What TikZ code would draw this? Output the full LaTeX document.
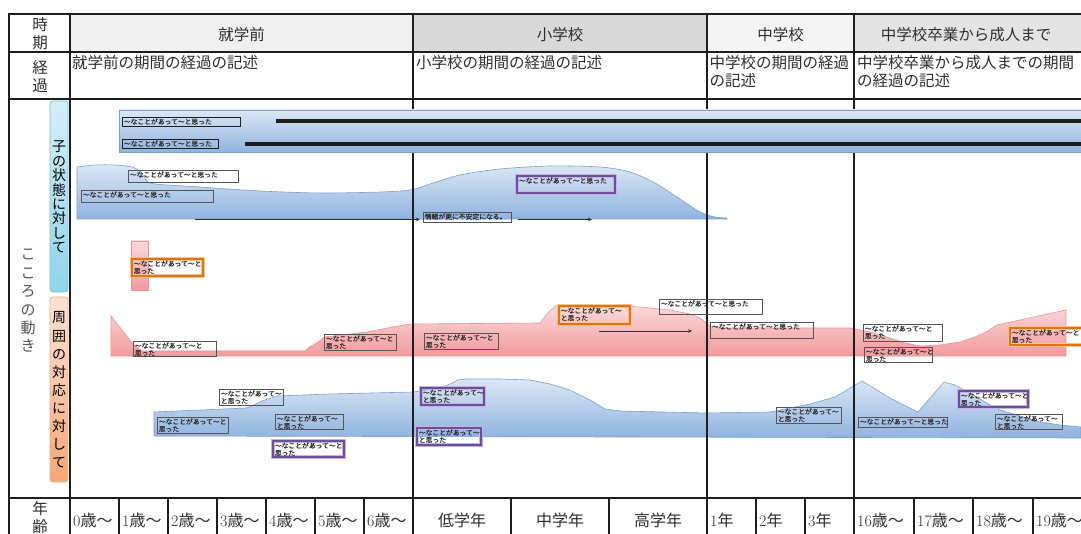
\documentclass[tikz,border=0pt]{standalone}
\usepackage{fontspec}
\newfontfamily\jp{Noto Sans CJK JP}
\newfontfamily\jplbl{Noto Sans CJK JP}[FakeBold=0.5]
\usetikzlibrary{arrows.meta}
\definecolor{hdA}{HTML}{F0F0F0}
\definecolor{hdB}{HTML}{D9D9D9}
\definecolor{hdC}{HTML}{F4F4F4}
\definecolor{hdD}{HTML}{E4E4E4}
\definecolor{bluetop}{HTML}{DCE7F5}
\definecolor{bluebot}{HTML}{8FB3DF}
\definecolor{blueedge}{HTML}{7A9FD2}
\definecolor{pinktop}{HTML}{FCDADB}
\definecolor{pinkbot}{HTML}{F29A9C}
\definecolor{pinkedge}{HTML}{E79496}
\definecolor{cyantop}{HTML}{D6EFF8}
\definecolor{cyanbot}{HTML}{8ED4EB}
\definecolor{cyanedge}{HTML}{7CC4DF}
\definecolor{peachtop}{HTML}{FDE3D4}
\definecolor{peachbot}{HTML}{F6A677}
\definecolor{peachedge}{HTML}{F1B088}
\definecolor{purp}{HTML}{6B4F9E}
\definecolor{purpglow}{HTML}{C3B4DE}
\definecolor{orng}{HTML}{DE7413}
\definecolor{orngglow}{HTML}{F9C48E}
\definecolor{lblgray}{HTML}{555555}
\definecolor{txt}{HTML}{2E2E2E}
\definecolor{softtxt}{HTML}{555555}
\definecolor{rulec}{HTML}{1E1E1E}
\newcommand{\lblfont}{\jplbl\fontsize{6.8}{7.3}\selectfont}
\newcommand{\lab}[7]{\node[#6, anchor=north west, inner sep=0pt, outer sep=0pt, minimum width=#4pt, minimum height=#5pt, font=\lblfont, text=txt] (#1) at (#2,#3) {\parbox[t][#5pt][t]{#4pt}{\leftskip=1.8pt\rule{0pt}{7.2pt}#7}};}
\tikzset{
  lbl/.style={draw=lblgray, line width=0.8pt},
  lbld/.style={draw=rulec, line width=0.9pt},
  plbl/.style={preaction={draw=purpglow, line width=3.4pt}, draw=purp, line width=1.3pt},
  olbl/.style={preaction={draw=orngglow, line width=3.4pt}, draw=orng, line width=1.4pt},
  hd/.style={font=\jp\fontsize{15.5}{18}\selectfont, text=txt, inner sep=0pt},
  agetxt/.style={font=\fontsize{16}{18}\selectfont, text=txt, inner sep=0pt},
  heavyrule/.style={draw=rulec, line width=2.8pt},
  bandrule/.style={draw=rulec, line width=3.2pt},
  lightrule/.style={draw=rulec, line width=1.3pt},
  blueshape/.style={top color=bluetop, bottom color=bluebot, draw=blueedge, line width=0.6pt},
  pinkshape/.style={top color=pinktop, bottom color=pinkbot, draw=pinkedge, line width=0.6pt},
  arr/.style={draw=txt, line width=0.9pt, -{Stealth[length=4pt,width=3.5pt]}},
}
\begin{document}
\begin{tikzpicture}[x=1pt,y=-1pt]
\useasboundingbox (0,0) rectangle (1081,534);
\fill[white] (0,0) rectangle (1081,534);
% header fills
\fill[hdA] (70,14) rectangle (413,52);
\fill[hdB] (413,14) rectangle (707,52);
\fill[hdC] (707,14) rectangle (854,52);
\fill[hdD] (854,14) rectangle (1081,52);
% side bars
\draw[top color=cyantop, bottom color=cyanbot, draw=cyanedge, line width=0.8pt, rounded corners=3pt] (50,101) rectangle (68,292);
\draw[top color=peachtop, bottom color=peachbot, draw=peachedge, line width=0.8pt, rounded corners=3pt] (50,297) rectangle (68,482);
\node[font=\jp\fontsize{14}{14.4}\selectfont, align=center, inner sep=0pt] (vt1) at (59,197) {子\\の\\状\\態\\に\\対\\し\\て};
\node[font=\jp\fontsize{14}{18.1}\selectfont, align=center, inner sep=0pt] (vt2) at (59,390) {周\\囲\\の\\対\\応\\に\\対\\し\\て};
\node[font=\jp\fontsize{15}{18.4}\selectfont, text=softtxt, align=center, inner sep=0pt] (kokoro) at (28,301) {こ\\こ\\ろ\\の\\動\\き};
% child state shape
\path[blueshape] plot[smooth, tension=0.5] coordinates {(77,167) (95,165) (115,165) (132,167) (141,172) (146,180) (155,184) (200,187) (260,191) (320,193) (380,192) (410,190) (430,184) (460,175) (500,169) (550,166) (600,167) (630,172) (655,183) (680,199) (700,212) (715,217) (727,218)} -- (727,219) -- (77,219) -- cycle;
% small pink bar
\draw[top color=pinktop, bottom color=pinkbot, draw=pinkedge, line width=0.6pt] (131,241) rectangle (148,290);
% surroundings pink shape
\path[pinkshape] (111,316) -- (133,344) -- (142,351) -- (305,351) -- (309,347) -- (313,345) -- (318,342) -- (324,337) -- (367,332) -- (403,325) -- (413,324) -- (540,323) -- (546,315) -- (555,306) -- (600,305) -- (640,307) -- (670,310) -- (690,314) -- (700,318) -- (710,326) -- (720,328) -- (850,328) -- (870,332) -- (890,338) -- (905,343) -- (920,346) -- (940,345) -- (960,342) -- (975,337) -- (988,331) -- (997,325) -- (1066,310) -- (1066,356) -- (111,356) -- cycle;
% surroundings blue shape
\path[blueshape] (154,412) -- (247,408) -- (262,401) -- (277,396) -- (330,394) -- (413,392) -- (440,388) -- (450,384) -- (458,380) -- (465,379) -- (500,379) -- (530,380) -- (550,384) -- (570,390) -- (590,400) -- (605,409) -- (620,411) -- (707,413) -- (770,412) -- (790,408) -- (810,404) -- (835,397) -- (862,381) -- (890,398) -- (918,412) -- (944,382) -- (955,385) -- (970,393) -- (985,402) -- (1000,410) -- (1020,416) -- (1040,422) -- (1060,425) -- (1081,427) -- (1081,438) -- (154,436) -- cycle;
% grid verticals
\foreach \x in {70,413,707,854} \draw[lightrule] (\x,14) -- (\x,534);
\foreach \x in {119,168,217,266,315,364,511,609,756,805,914,973,1033} \draw[lightrule] (\x,498) -- (\x,534);
% top band
\draw[top color=bluetop, bottom color=bluebot, draw=blueedge, line width=0.8pt] (119,110) rectangle (1085,152);
\coordinate (tl1s) at (276,121); \coordinate (tl1e) at (1081,121);
\coordinate (tl2s) at (245,144); \coordinate (tl2e) at (1081,144);
\draw[bandrule] (tl1s) -- (tl1e);
\draw[bandrule] (tl2s) -- (tl2e);
\lab{tb1}{122}{117}{118}{9}{lbld}{〜なことがあって〜と思った}
\lab{tb2}{122}{139}{96}{9}{lbld}{〜なことがあって〜と思った}
% horizontal rules
\draw[heavyrule] (8,14) -- (1081,14);
\draw[heavyrule] (8,52) -- (1081,52);
\draw[heavyrule] (8,99) -- (1081,99);
\draw[heavyrule] (8,498) -- (1081,498);
\draw[heavyrule] (9,13) -- (9,534);
% header texts
\node[hd, align=center] (jiki) at (40,34) {時\\期};
\node[hd, align=center] (keika) at (40,77) {経\\過};
\node[hd, align=center] (nenrei) at (40,518) {年\\齢};
\node[hd] (h1) at (241.5,35) {就学前};
\node[hd] (h2) at (560,35) {小学校};
\node[hd] (h3) at (780.5,35) {中学校};
\node[hd] (h4) at (966,35) {中学校卒業から成人まで};
\node[hd, anchor=north west, align=left] (d1) at (72,55.5) {就学前の期間の経過の記述};
\node[hd, anchor=north west, align=left] (d2) at (416,55.5) {小学校の期間の経過の記述};
\node[hd, anchor=north west, align=left] (d3) at (709.5,55.5) {中学校の期間の経過\\の記述};
\node[hd, anchor=north west, align=left] (d4) at (857,55.5) {中学校卒業から成人までの期間\\の経過の記述};
% age row
\node[agetxt, anchor=west] (a0) at (73,520) {0{\jp 歳〜}};
\node[agetxt, anchor=west] (a1) at (122,520) {1{\jp 歳〜}};
\node[agetxt, anchor=west] (a2) at (171,520) {2{\jp 歳〜}};
\node[agetxt, anchor=west] (a3) at (220,520) {3{\jp 歳〜}};
\node[agetxt, anchor=west] (a4) at (269,520) {4{\jp 歳〜}};
\node[agetxt, anchor=west] (a5) at (318,520) {5{\jp 歳〜}};
\node[agetxt, anchor=west] (a6) at (367,520) {6{\jp 歳〜}};
\node[agetxt] (e1) at (462,520) {\jp 低学年};
\node[agetxt] (e2) at (560,520) {\jp 中学年};
\node[agetxt] (e3) at (658,520) {\jp 高学年};
\node[agetxt, anchor=west] (j1) at (710,520) {1{\jp 年}};
\node[agetxt, anchor=west] (j2) at (759,520) {2{\jp 年}};
\node[agetxt, anchor=west] (j3) at (808,520) {3{\jp 年}};
\node[agetxt, anchor=west] (s16) at (857,520) {16{\jp 歳〜}};
\node[agetxt, anchor=west] (s17) at (917,520) {17{\jp 歳〜}};
\node[agetxt, anchor=west] (s18) at (976,520) {18{\jp 歳〜}};
\node[agetxt, anchor=west] (s19) at (1036,520) {19{\jp 歳〜}};
% child labels
\lab{c1}{128}{170}{110}{12}{lbl}{〜なことがあって〜と思った}
\lab{c2}{81}{190}{132}{12}{lbl}{〜なことがあって〜と思った}
\lab{cj}{423}{212}{88}{10}{lbl}{情緒が更に不安定になる。}
\lab{cp}{517}{176}{98}{17}{plbl}{〜なことがあって〜と思った}
\lab{co}{132}{259}{71}{17}{olbl}{〜なことがあって〜と\\思った}
\coordinate (ca1) at (195,219.5); \coordinate (ca2) at (420,219.5);
\coordinate (ca3) at (518,219.5); \coordinate (ca4) at (592,219.5);
\draw[arr] (ca1) -- (ca2);
\draw[arr] (ca3) -- (ca4);
% pink labels
\lab{p1}{133}{341}{83}{15}{lbl}{〜なことがあって〜と\\思った}
\lab{p2}{324}{334}{72}{16}{lbl}{〜なことがあって〜と\\思った}
\lab{p3}{424}{333}{74}{16}{lbl}{〜なことがあって〜と\\思った}
\lab{p4}{559}{306}{71}{18}{olbl}{〜なことがあって〜\\と思った}
\lab{p5}{659}{299}{103}{15}{lbl}{〜なことがあって〜と思った}
\lab{p6}{710}{322}{103}{16}{lbl}{〜なことがあって〜と思った}
\lab{p7}{863}{324}{79}{17}{lbl}{〜なことがあって〜と\\思った}
\lab{p8}{864}{347}{68}{15}{lbl}{〜なことがあって〜と\\思った}
\lab{p9}{1010}{328}{80}{17}{olbl}{〜なことがあって〜と\\思った}
\coordinate (pa1) at (599,331); \coordinate (pa2) at (692,331);
\draw[arr] (pa1) -- (pa2);
% blue lower labels
\lab{b1}{157}{417}{71}{16}{lbl}{〜なことがあって〜と\\思った}
\lab{b2}{219}{389}{64}{16}{lbl}{〜なことがあって〜\\と思った}
\lab{b3}{275}{414}{68}{15}{lbl}{〜なことがあって〜\\と思った}
\lab{b4}{273}{441}{71}{16}{plbl}{〜なことがあって〜と\\思った}
\lab{b5}{421}{388}{63}{17}{plbl}{〜なことがあって〜\\と思った}
\lab{b6}{417}{428}{64}{17}{plbl}{〜なことがあって〜\\と思った}
\lab{b7}{776}{407}{65}{16}{lbl}{〜なことがあって〜\\と思った}
\lab{b8}{858}{417}{89}{10}{lbl}{〜なことがあって〜と思った}
\lab{b9}{959}{391}{69}{16}{plbl}{〜なことがあって〜と\\思った}
\lab{b10}{995}{414}{67}{15}{lbl}{〜なことがあって〜\\と思った}
\end{tikzpicture}
\end{document}
